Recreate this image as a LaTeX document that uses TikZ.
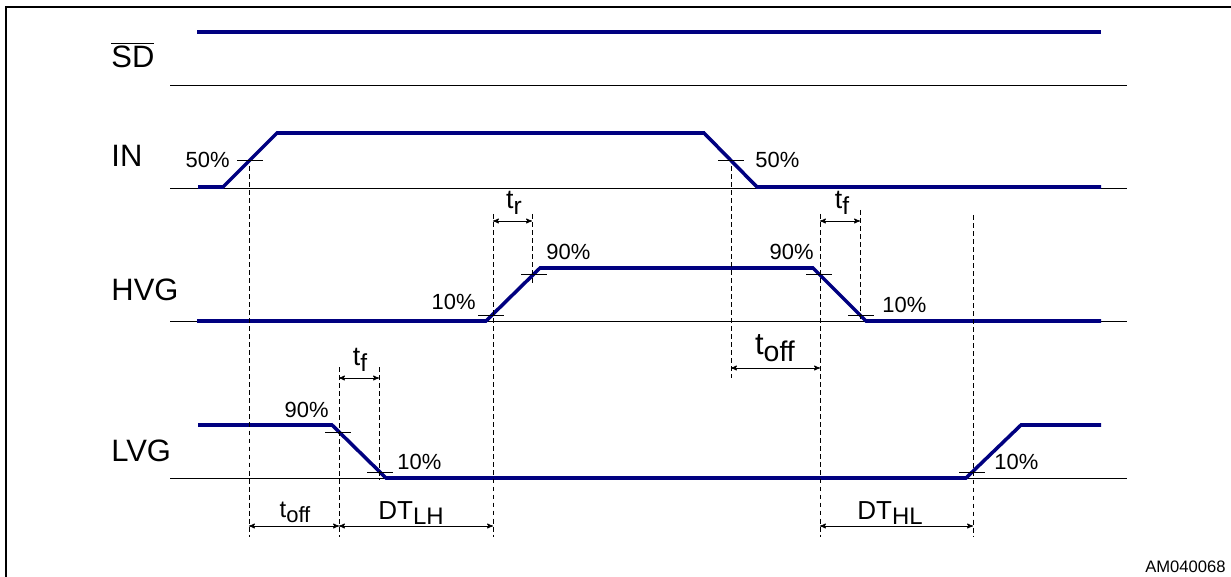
\documentclass[tikz,border=0pt]{standalone}
\usepackage{fontspec}
\setmainfont{Liberation Sans}
\usepackage{tikz}
\usetikzlibrary{arrows}
\definecolor{navy}{RGB}{0,0,128}
\newcommand{\lo}[1]{\raisebox{-0.4ex}{\scalebox{0.92}{#1}}}

\begin{document}
\begin{tikzpicture}[x=0.025cm,y=-0.025cm,
  >=stealth',semithick,
  sig/.style={draw=navy,line width=2.5pt,line join=miter},
  base/.style={draw=black,line width=0.6pt},
  guide/.style={draw=black,line width=0.6pt,dash pattern=on 3.5pt off 2.2pt},
  tick/.style={draw=black,line width=0.7pt},
  dim/.style={<->,draw=black,line width=0.6pt},
  signame/.style={anchor=west,inner sep=0pt,font=\fontsize{22}{24}\selectfont},
  pct/.style={inner sep=0pt,font=\fontsize{15.6}{18}\selectfont},
  tlab/.style={inner sep=0pt,font=\fontsize{19}{21}\selectfont}]
  \useasboundingbox (0,0) rectangle (1231,577);
  \draw[line width=1.5pt] (6,577) -- (6,7) -- (1231,7);

  % signal names
  \node[signame] (sd) at (111,55) {$\overline{\mbox{SD}}$};
  \node[signame] (in) at (111,156) {IN};
  \node[signame] (hvg) at (111,290) {HVG};
  \node[signame] (lvg) at (111,451) {LVG};

  % baselines
  \foreach \y in {85,188,321,478}
    \draw[base] (170,\y) -- (1127,\y);

  % waveforms
  \draw[sig] (197,32) -- (1101,32);
  \draw[sig] (198,187) -- (223,187) -- (277,133) -- (704,133) -- (757,187) -- (1101,187);
  \draw[sig] (197,321) -- (486,321) -- (540,268) -- (813,268) -- (866,321) -- (1101,321);
  \draw[sig] (198,425) -- (332,425) -- (386,478) -- (966,478) -- (1021,425) -- (1101,425);

  % threshold crossings
  \coordinate (c1) at (250,160);
  \coordinate (c2) at (731,160);
  \coordinate (c3) at (491,315);
  \coordinate (c4) at (534,274);
  \coordinate (c5) at (819,274);
  \coordinate (c6) at (861,315);
  \coordinate (c7) at (338,432);
  \coordinate (c8) at (380,472);
  \coordinate (c9) at (972,472);
  \foreach \c in {c1,c2,c3,c4,c5,c6,c7,c8,c9}
    \draw[tick] (\c) +(-13,0) -- +(13,0);

  \node[pct,anchor=east] (p1) at (230,160) {50\%};
  \node[pct,anchor=west] (p2) at (755,160) {50\%};
  \node[pct,anchor=east] (p3) at (476,302) {10\%};
  \node[pct,anchor=west] (p4) at (546,252) {90\%};
  \node[pct,anchor=east] (p5) at (814,252) {90\%};
  \node[pct,anchor=west] (p6) at (882,305) {10\%};
  \node[pct,anchor=east] (p7) at (329,410) {90\%};
  \node[pct,anchor=west] (p8) at (397,462) {10\%};
  \node[pct,anchor=west] (p9) at (994,462) {10\%};

  % guide lines
  \draw[guide] (249,166) -- (249,537);
  \draw[guide] (731,166) -- (731,378);
  \draw[guide] (493,214) -- (493,537);
  \draw[guide] (532,214) -- (532,283);
  \draw[guide] (820,214) -- (820,537);
  \draw[guide] (860,210) -- (860,322);
  \draw[guide] (973,215) -- (973,537);
  \draw[guide] (339,367) -- (339,537);
  \draw[guide] (379,367) -- (379,480);

  % timing intervals
  \coordinate (r1) at (493,221);
  \coordinate (r2) at (532,221);
  \coordinate (f1) at (820,221);
  \coordinate (f2) at (860,221);
  \coordinate (o1) at (731,368);
  \coordinate (o2) at (820,368);
  \coordinate (g1) at (339,378);
  \coordinate (g2) at (379,378);
  \coordinate (b1) at (249,526);
  \coordinate (b2) at (339,526);
  \coordinate (b3) at (493,526);
  \coordinate (b4) at (820,526);
  \coordinate (b5) at (973,526);
  \draw[dim] (r1) -- (r2);
  \draw[dim] (f1) -- (f2);
  \draw[dim] (o1) -- (o2);
  \draw[dim] (g1) -- (g2);
  \draw[dim] (b1) -- (b2);
  \draw[dim] (b2) -- (b3);
  \draw[dim] (b4) -- (b5);

  \node[tlab] (tr) at (514,203) {t\lo{r}};
  \node[tlab] (tf1) at (842,203) {t\lo{f}};
  \node[tlab] (tf2) at (360,360) {t\lo{f}};
  \node[tlab,font=\fontsize{22}{24}\selectfont] (toff1) at (775,348) {t\lo{off}};
  \node[tlab,font=\fontsize{17}{20}\selectfont] (toff2) at (295,512) {t\lo{off}};
  \node[tlab,font=\fontsize{18.5}{20}\selectfont] (dtlh) at (411,513) {DT\lo{LH}};
  \node[tlab,font=\fontsize{18.5}{20}\selectfont] (dthl) at (890,513) {DT\lo{HL}};

  \node[inner sep=0pt,anchor=east,font=\fontsize{11.8}{14}\selectfont] (id) at (1226,567) {AM040068};
\end{tikzpicture}
\end{document}
